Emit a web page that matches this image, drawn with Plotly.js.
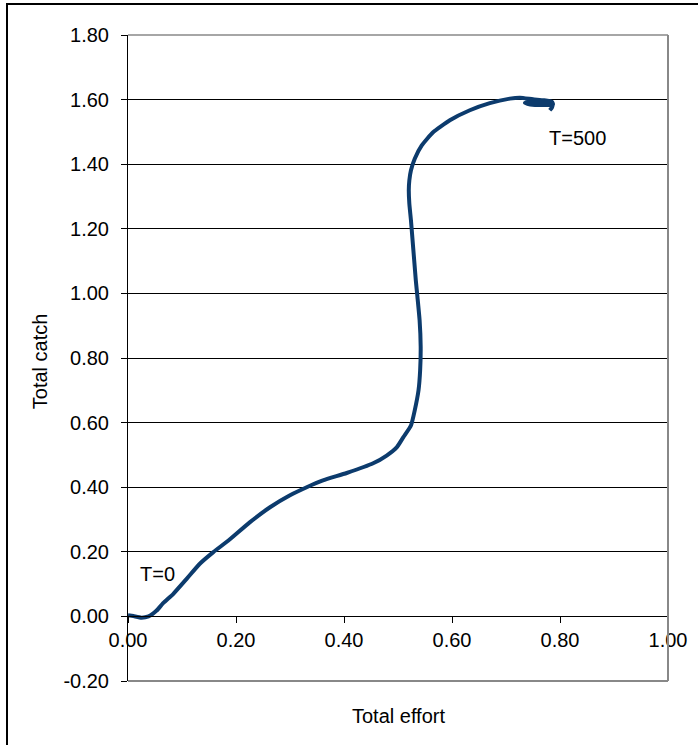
<!DOCTYPE html>
<html>
<head>
<meta charset="utf-8">
<script src="https://cdn.plot.ly/plotly-3.0.1.min.js"></script>
<style>
  html, body { margin: 0; padding: 0; background: #fff; }
  #wrap { position: relative; width: 698px; height: 745px; overflow: hidden; }
  #chart { position: absolute; left: 0; top: 0; width: 698px; height: 745px; }
  #frame { position: absolute; left: 6px; top: 3px; width: 760px; height: 800px;
           border-top: 2px solid #000; border-left: 2px solid #000; pointer-events: none; }
</style>
</head>
<body>
<div id="wrap">
  <div id="chart"></div>
  <div id="frame"></div>
</div>
<script>
// Trajectory: total effort (x) vs total catch (y), from T=0 to T=500
const effort = [0.000, 0.010, 0.025, 0.038, 0.053, 0.065, 0.084, 0.109, 0.133, 0.158,
  0.186, 0.226, 0.263, 0.300, 0.331, 0.361, 0.405, 0.454, 0.479, 0.498,
  0.510, 0.524, 0.531, 0.538, 0.541, 0.542, 0.540, 0.536, 0.533, 0.530,
  0.527, 0.524, 0.521, 0.520, 0.521, 0.524, 0.531, 0.544, 0.565, 0.596,
  0.633, 0.670, 0.707, 0.726, 0.750, 0.770, 0.785, 0.787, 0.770, 0.745,
  0.735, 0.750, 0.775, 0.786, 0.785, 0.781];
const catchTotal = [0.004, 0.001, -0.004, 0.000, 0.018, 0.041, 0.070, 0.117, 0.163, 0.199,
  0.235, 0.292, 0.338, 0.375, 0.400, 0.421, 0.444, 0.474, 0.498, 0.524,
  0.555, 0.591, 0.638, 0.700, 0.762, 0.834, 0.917, 0.989, 1.040, 1.102,
  1.164, 1.226, 1.278, 1.320, 1.350, 1.381, 1.417, 1.458, 1.499, 1.536,
  1.567, 1.589, 1.603, 1.606, 1.601, 1.598, 1.593, 1.585, 1.583, 1.585,
  1.590, 1.594, 1.592, 1.584, 1.575, 1.567];

const xTickVals = [0.0, 0.2, 0.4, 0.6, 0.8, 1.0];
const xTickText = ["0.00", "0.20", "0.40", "0.60", "0.80", "1.00"];
const yTickVals = [-0.2, 0.0, 0.2, 0.4, 0.6, 0.8, 1.0, 1.2, 1.4, 1.6, 1.8];
const yTickText = ["-0.20", "0.00", "0.20", "0.40", "0.60", "0.80", "1.00", "1.20", "1.40", "1.60", "1.80"];

const startLabel = {x: 0.018, y: 0.13, text: "T=0"};
const endLabel = {x: 0.776, y: 1.48, text: "T=500"};

const FONT = "Liberation Sans, Arial, sans-serif";

const trace = {
  x: effort,
  y: catchTotal,
  mode: "lines",
  type: "scatter",
  line: {color: "#0c3b6d", width: 4, shape: "spline", smoothing: 0.5},
  hoverinfo: "skip",
  showlegend: false
};

const layout = {
  width: 698,
  height: 745,
  margin: {l: 128, r: 30, t: 35, b: 64, pad: 0},
  paper_bgcolor: "#ffffff",
  plot_bgcolor: "#ffffff",
  font: {family: FONT, size: 20, color: "#000"},
  showlegend: false,
  xaxis: {
    range: [0, 1],
    tickvals: xTickVals,
    ticktext: xTickText,
    anchor: "free",
    position: 0.1,
    showline: true,
    linecolor: "#000",
    linewidth: 1,
    ticks: "outside",
    ticklen: 6,
    tickcolor: "#000",
    showgrid: false,
    zeroline: false,
    tickfont: {family: FONT, size: 20, color: "#000"},
    fixedrange: true
  },
  yaxis: {
    range: [-0.2, 1.8],
    tickvals: yTickVals,
    ticktext: yTickText,
    showline: true,
    linecolor: "#000",
    linewidth: 1,
    ticks: "outside",
    ticklen: 6,
    tickcolor: "#000",
    ticklabelstandoff: 8,
    showgrid: true,
    gridcolor: "#000",
    gridwidth: 1,
    zeroline: false,
    tickfont: {family: FONT, size: 20, color: "#000"},
    fixedrange: true
  },
  shapes: [
    {type: "line", xref: "paper", yref: "paper", x0: 0, x1: 1, y0: 1, y1: 1, line: {color: "#888", width: 1.5}, layer: "above"},
    {type: "line", xref: "paper", yref: "paper", x0: 1, x1: 1, y0: 0, y1: 1, line: {color: "#888", width: 2}, layer: "above"},
    {type: "line", xref: "paper", yref: "paper", x0: 0, x1: 1, y0: 0, y1: 0, line: {color: "#888", width: 2}, layer: "above"}
  ],
  annotations: [
    {x: startLabel.x, y: startLabel.y, xref: "x", yref: "y", text: startLabel.text, showarrow: false,
     xanchor: "left", yanchor: "middle", font: {family: FONT, size: 20, color: "#000"}},
    {x: endLabel.x, y: endLabel.y, xref: "x", yref: "y", text: endLabel.text, showarrow: false,
     xanchor: "left", yanchor: "middle", font: {family: FONT, size: 20, color: "#000"}},
    {x: 0.5, y: -0.054, xref: "paper", yref: "paper", text: "Total effort", showarrow: false,
     xanchor: "center", yanchor: "middle", font: {family: FONT, size: 20, color: "#000"}},
    {x: -0.163, y: 0.495, xref: "paper", yref: "paper", text: "Total catch", showarrow: false,
     textangle: -90, xanchor: "center", yanchor: "middle", font: {family: FONT, size: 20, color: "#000"}}
  ]
};

Plotly.newPlot("chart", [trace], layout, {displayModeBar: false, staticPlot: true});
</script>
</body>
</html>
